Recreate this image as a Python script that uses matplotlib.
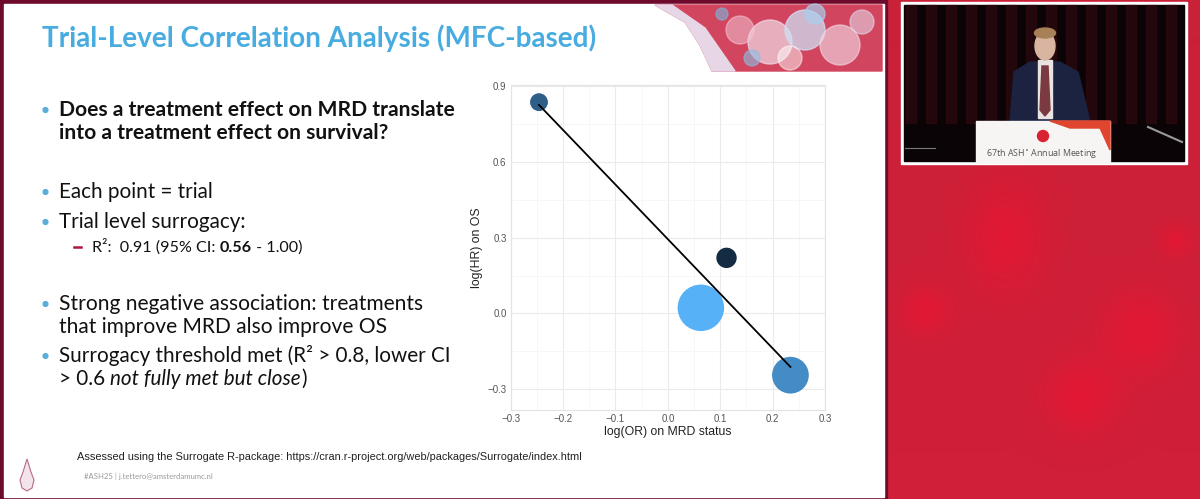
import numpy as np
import matplotlib
matplotlib.use("Agg")
import matplotlib.pyplot as plt
from matplotlib.patches import Rectangle, Ellipse, Polygon, Circle
from matplotlib.colors import LinearSegmentedColormap

# trial-level data
log_or_mrd = [-0.246, 0.112, 0.063, 0.234]
log_hr_os = [0.837, 0.220, 0.022, -0.245]
trial_weight = [165, 215, 1120, 700]       # bubble area
trial_shade = [0.38, 0.0, 1.0, 0.72]       # position on the ggplot blue gradient
fit_slope = -2.163
fit_intercept = 0.294

x_ticks = [-0.3, -0.2, -0.1, 0.0, 0.1, 0.2, 0.3]
y_ticks = [-0.3, 0.0, 0.3, 0.6, 0.9]

title = "Trial-Level Correlation Analysis (MFC-based)"
footnote = "Assessed using the Surrogate R-package: https://cran.r-project.org/web/packages/Surrogate/index.html"
contact = "#ASH25 | j.tettero@amsterdamumc.nl"

W, H = 1200, 499
fig = plt.figure(figsize=(12, 4.99), dpi=100)

# background layer in pixel coordinates
bg = fig.add_axes([0, 0, 1, 1])
bg.set_xlim(0, W)
bg.set_ylim(H, 0)
bg.axis("off")

yy, xx = np.mgrid[0:H, 0:W]
img = np.ones((H, W, 3)) * np.array([0.79, 0.13, 0.22])
img += ((yy / H) * 0.04)[..., None] * np.array([0.6, -0.2, 0.1])
for cx, cy, sx, sy in [(1005, 235, 30, 42), (1140, 330, 28, 30),
                       (1080, 395, 26, 26), (925, 310, 18, 18), (1175, 240, 12, 12)]:
    g = np.exp(-((xx - cx) ** 2 / (2 * sx ** 2) + (yy - cy) ** 2 / (2 * sy ** 2)))
    img += g[..., None] * np.array([0.08, -0.03, -0.02])
bg.imshow(np.clip(img, 0, 1), extent=(0, W, H, 0), aspect="auto", zorder=0)

# slide
bg.add_patch(Rectangle((0, 0), 887, H, color="#6e0b2c", zorder=1))
bg.add_patch(Rectangle((4, 4), 880, 493, color="white", zorder=2))

# header picture (top right of slide)
bg.add_patch(Polygon([(655, 5), (882, 5), (882, 71), (712, 71), (700, 45), (685, 22)],
                     closed=True, color="#d2455e", zorder=3))
bg.add_patch(Polygon([(712, 71), (700, 45), (685, 22), (655, 5), (672, 5), (705, 28), (735, 71)],
                     closed=True, color="#e6d6e6", zorder=3))
for cx, cy, r, c, a in [(770, 42, 22, "#f1dce8", 0.7), (805, 30, 20, "#cfe0f4", 0.75),
                        (840, 45, 20, "#f0d6e2", 0.65), (790, 58, 12, "#ffffff", 0.5),
                        (740, 30, 14, "#f2c6d4", 0.55), (862, 22, 12, "#e6e2f2", 0.55),
                        (815, 14, 10, "#a9cfee", 0.7), (752, 58, 8, "#8bbfe4", 0.6),
                        (722, 14, 6, "#79b8e0", 0.6)]:
    bg.add_patch(Circle((cx, cy), r, color=c, alpha=a, zorder=4))

# title
bg.text(42, 38, title, fontsize=20.1, color="#48ace0", family="Lato",
        weight="bold", va="center", ha="left", zorder=5)


def line(x, y, parts, size=14.85):
    prev = None
    for txt, kw in parts:
        style = dict(fontsize=size, family="Lato", color="#111111", zorder=5)
        style.update(kw)
        if prev is None:
            prev = bg.annotate(txt, xy=(x, y), xycoords="data", va="baseline", ha="left", **style)
        else:
            prev = bg.annotate(txt, xy=(1, 0), xycoords=prev, va="bottom", ha="left", **style)


def bullet(y):
    bg.add_patch(Circle((45.5, y - 6), 2.4, color="#5aafd9", zorder=5))


bullet(116)
line(59, 116, [("Does a treatment effect on MRD translate", dict(weight="bold"))], size=15.1)
line(59, 139, [("into a treatment effect on survival?", dict(weight="bold"))], size=15.1)
bullet(198)
line(59, 198, [("Each point = trial", {})])
bullet(228)
line(59, 228, [("Trial level surrogacy:", {})])
bg.plot([74, 81], [247, 247], color="#b0163e", lw=1.8, zorder=5)
line(92, 252, [("R²:  0.91 (95% CI: ", {}), ("0.56", dict(weight="bold")), (" - 1.00)", {})], size=11.6)
bullet(310)
line(59, 310, [("Strong negative association: treatments", {})], size=15.1)
line(59, 333, [("that improve MRD also improve OS", {})], size=15.1)
bullet(362)
line(59, 362, [("Surrogacy threshold met (R² > 0.8, lower CI", {})])
line(59, 385, [("> 0.6 ", {}), ("not fully met but close", dict(style="italic")), (")", {})])

# footer
bg.text(77, 457, footnote, fontsize=7.9, family="Liberation Sans", color="#222222",
        va="center", ha="left", zorder=5)
bg.text(84, 476, contact, fontsize=5.6, family="Lato", color="#9a9a9a",
        va="center", ha="left", zorder=5)
bg.add_patch(Polygon([(27, 459), (31, 472), (34, 480), (32, 488), (27, 491), (22, 488), (20, 480), (23, 472)],
                     closed=True, facecolor="#f3e3ea", edgecolor="#b86a8a", lw=0.8, zorder=5))

# speaker video inset
bg.add_patch(Rectangle((901, 2), 286, 162, color="white", zorder=3))
bg.add_patch(Rectangle((904, 5), 280, 156, color="#0a0406", zorder=4))
for k in range(14):
    bg.add_patch(Rectangle((906 + k * 20, 5), 10, 118, color="#3a0a12", alpha=0.5, zorder=4))
bg.add_patch(Polygon([(1010, 122), (1014, 72), (1030, 62), (1060, 62), (1078, 72), (1090, 122)],
                     closed=True, color="#1c2340", zorder=5))
bg.add_patch(Rectangle((1038, 60), 14, 58, color="#e9e4e2", zorder=5))
bg.add_patch(Polygon([(1042, 66), (1048, 66), (1050, 110), (1045, 116), (1040, 110)],
                     closed=True, color="#7a3a40", zorder=5))
bg.add_patch(Ellipse((1045, 46), 20, 28, color="#d9b4a0", zorder=5))
bg.add_patch(Ellipse((1045, 33), 21, 10, color="#a88058", zorder=5))
bg.add_patch(Rectangle((976, 121), 134, 42, color="#f7f5f3", zorder=6))
bg.add_patch(Polygon([(1050, 121), (1110, 121), (1110, 150), (1100, 128), (1070, 128)],
                     closed=True, color="#e0452f", zorder=6))
bg.add_patch(Circle((1043, 136), 5.5, color="#d92332", zorder=7))
bg.text(1042, 154, "67th ASH$^{\\circ}$ Annual Meeting", fontsize=6.4, family="Open Sans",
        color="#555555", ha="center", va="center", zorder=7)
bg.plot([1148, 1182], [127, 142], color="#9a9a9a", lw=1.5, zorder=6)
bg.plot([905, 935], [148, 148], color="#777777", lw=0.8, zorder=6)

# scatter panel
ax = fig.add_axes([510.7 / W, (H - 410) / H, (825 - 510.7) / W, (410 - 85) / H])
cmap = LinearSegmentedColormap.from_list("gg", ["#132B43", "#56B1F7"])
ax.set_xlim(-0.3, 0.3)
ax.set_ylim(-0.383, 0.905)
ax.set_xticks(x_ticks)
ax.set_yticks(y_ticks)
ax.set_xticks(np.arange(-0.25, 0.3, 0.1), minor=True)
ax.set_yticks([-0.15, 0.15, 0.45, 0.75], minor=True)
ax.grid(True, which="major", color="#ebebeb", lw=0.8)
ax.grid(True, which="minor", color="#f4f4f4", lw=0.5)
ax.set_axisbelow(True)
for s in ax.spines.values():
    s.set_color("#e3e3e3")
    s.set_linewidth(0.8)
ax.tick_params(which="both", length=0, labelsize=7.0, labelcolor="#555555", pad=3)
ax.set_xticklabels(["\u22120.3", "\u22120.2", "\u22120.1", "0.0", "0.1", "0.2", "0.3"],
                   family="Liberation Sans")
ax.set_yticklabels(["\u22120.3", "0.0", "0.3", "0.6", "0.9"], family="Liberation Sans")
ax.scatter(log_or_mrd, log_hr_os, s=trial_weight, c=[cmap(v) for v in trial_shade],
           linewidths=0, zorder=3)
xs = np.array([min(log_or_mrd), max(log_or_mrd)])
ax.plot(xs, fit_intercept + fit_slope * xs, color="black", lw=1.3, zorder=4)
ax.set_xlabel("log(OR) on MRD status", fontsize=8.8, color="#222222", labelpad=1.5,
              family="Liberation Sans")
ax.set_ylabel("log(HR) on OS", fontsize=8.8, color="#222222", labelpad=3,
              family="Liberation Sans")

fig.savefig("out.png", dpi=100)
